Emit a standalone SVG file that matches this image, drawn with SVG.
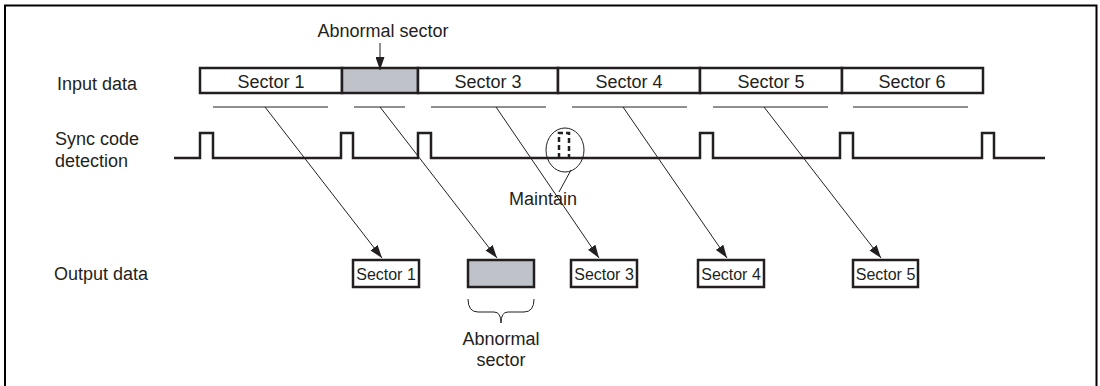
<svg xmlns="http://www.w3.org/2000/svg" width="1100" height="386" viewBox="0 0 1100 386">
<style>
text{font-family:"Liberation Sans",Arial,sans-serif;fill:#231f20}
.lbl{font-size:18px}
.in{font-size:18px;text-anchor:middle}
.out{font-size:16px;text-anchor:middle}
.box{fill:#fff;stroke:#231f20;stroke-width:2.5}
.gray{fill:#bfc3c9;stroke:#231f20;stroke-width:2.5}
.thin{stroke:#231f20;stroke-width:1;fill:none}
.wave{stroke:#231f20;stroke-width:2.5;fill:none}
</style>
<defs>
<marker id="ah" markerWidth="13" markerHeight="9" refX="13" refY="4.5" orient="auto" markerUnits="userSpaceOnUse">
<path d="M0,0 L13,4.5 L0,9 Z" fill="#231f20"/>
</marker>
</defs>
<path d="M5,386 V5.5 H1096.5 V386" fill="none" stroke="#000" stroke-width="2"/>
<g id="labels">
<text class="lbl" x="57" y="90">Input data</text>
<text class="lbl" x="55" y="145">Sync code</text>
<text class="lbl" x="55" y="167">detection</text>
<text class="lbl" x="54" y="280">Output data</text>
</g>
<g id="input-data">
<rect class="box" x="200" y="68" width="142" height="25"/>
<rect class="gray" x="342" y="68" width="76" height="25"/>
<rect class="box" x="418" y="68" width="140" height="25"/>
<rect class="box" x="558" y="68" width="142" height="25"/>
<rect class="box" x="700" y="68" width="142" height="25"/>
<rect class="box" x="842" y="68" width="141" height="25"/>
<text class="in" x="271" y="88">Sector 1</text>
<text class="in" x="488" y="88">Sector 3</text>
<text class="in" x="629" y="88">Sector 4</text>
<text class="in" x="771" y="88">Sector 5</text>
<text class="in" x="912" y="88">Sector 6</text>
</g>
<g id="abnormal-top">
<text class="in" x="383" y="37">Abnormal sector</text>
<line class="thin" x1="380" y1="43" x2="380" y2="70" stroke-width="1.2" marker-end="url(#ah)"/>
</g>
<g id="underlines">
<line class="thin" x1="213" y1="107" x2="328" y2="107"/>
<line class="thin" x1="354" y1="107" x2="405" y2="107"/>
<line class="thin" x1="431" y1="107" x2="546" y2="107"/>
<line class="thin" x1="572" y1="107" x2="687" y2="107"/>
<line class="thin" x1="713" y1="107" x2="828" y2="107"/>
<line class="thin" x1="853" y1="107" x2="968" y2="107"/>
</g>
<g id="sync-wave">
<path class="wave" d="M174,158 H200 V133 H213 V158 H341 V133 H353 V158 H418 V133 H431 V158 H700 V133 H713 V158 H840 V133 H853 V158 H982 V133 H994 V158 H1045"/>
</g>
<g id="maintain">
<ellipse class="thin" cx="565" cy="150" rx="19" ry="22"/>
<path d="M559,158 V133 H569 V158" fill="none" stroke="#231f20" stroke-width="2.5" stroke-dasharray="5,3"/>
<line class="thin" x1="571" y1="170" x2="559" y2="192"/>
<text class="in" x="543" y="205">Maintain</text>
</g>
<g id="connectors">
<line class="thin" x1="265" y1="107" x2="382" y2="258" marker-end="url(#ah)"/>
<line class="thin" x1="380" y1="107" x2="497" y2="258" marker-end="url(#ah)"/>
<line class="thin" x1="496" y1="107" x2="599" y2="258" marker-end="url(#ah)"/>
<line class="thin" x1="623" y1="107" x2="727" y2="258" marker-end="url(#ah)"/>
<line class="thin" x1="764" y1="107" x2="881" y2="258" marker-end="url(#ah)"/>
</g>
<g id="out-1">
<rect class="box" x="353" y="260" width="66" height="27"/>
<text class="out" x="386" y="279.5">Sector 1</text>
</g>
<g id="out-abnormal">
<rect class="gray" x="468" y="260" width="66" height="27"/>
<path class="thin" d="M468,299 Q468,312 478,312 H494 Q501,312 501,323 Q501,312 508,312 H524 Q534,312 534,299"/>
<text class="in" x="501" y="345">Abnormal</text>
<text class="in" x="501" y="366">sector</text>
</g>
<g id="out-3">
<rect class="box" x="571" y="260" width="66" height="27"/>
<text class="out" x="604" y="279.5">Sector 3</text>
</g>
<g id="out-4">
<rect class="box" x="698" y="260" width="66" height="27"/>
<text class="out" x="731" y="279.5">Sector 4</text>
</g>
<g id="out-5">
<rect class="box" x="853" y="260" width="65" height="27"/>
<text class="out" x="885.5" y="279.5">Sector 5</text>
</g>
</svg>
